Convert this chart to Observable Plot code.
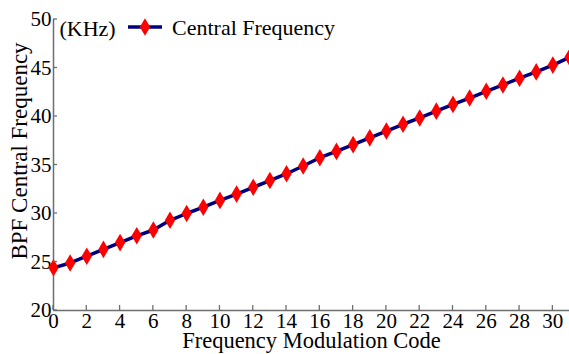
<!DOCTYPE html>
<html>
<head>
<meta charset="utf-8">
<script src="https://cdn.jsdelivr.net/npm/d3@7"></script>
<script src="https://cdn.jsdelivr.net/npm/@observablehq/plot@0.6"></script>
<style>
  html, body { margin: 0; padding: 0; background: #fff; }
  #chart svg { display: block; }
</style>
</head>
<body>
<div id="chart"></div>
<script>
const codes = d3.range(0, 32);
const centralFreq = [24.4, 24.9, 25.6, 26.3, 27.0, 27.7, 28.3, 29.3, 30.0, 30.65,
  31.35, 32.0, 32.7, 33.4, 34.1, 34.9, 35.75, 36.4, 37.1, 37.8,
  38.5, 39.2, 39.85, 40.55, 41.25, 41.9, 42.6, 43.25, 43.95, 44.6,
  45.3, 46.1];
const xTicks = d3.range(0, 31, 2);
const yTicks = [20, 25, 30, 35, 40, 45, 50];
const seriesName = "Central Frequency";
const unitLabel = "(KHz)";
const xLabel = "Frequency Modulation Code";
const yLabel = "BPF Central Frequency";

const data = codes.map((c, i) => ({code: c, freq: centralFreq[i]}));

const tallDiamond = {
  draw(ctx, size) {
    const w = 5.2, h = 8.8;
    ctx.moveTo(0, -h); ctx.lineTo(w, 0); ctx.lineTo(0, h); ctx.lineTo(-w, 0); ctx.closePath();
  }
};

const font = "Liberation Serif, Times New Roman, serif";
const axisColor = "#6e6e6e";

const plot = Plot.plot({
  width: 569,
  height: 354,
  marginLeft: 53,
  marginRight: 0,
  marginTop: 19,
  marginBottom: 44,
  style: {fontFamily: font, fontSize: "21px", color: "#000", background: "#fff", overflow: "visible"},
  x: {domain: [0, 31]},
  y: {domain: [20, 50]},
  marks: [
    Plot.axisX({ticks: xTicks, tickSize: 0, tickPadding: 3, label: null, fontSize: 21, fill: "#000"}),
    Plot.axisY({ticks: yTicks, tickSize: 0, tickPadding: 2, label: null, fontSize: 21, fill: "#000"}),
    Plot.ruleX([0], {stroke: axisColor, strokeWidth: 1.5}),
    Plot.ruleY([20], {stroke: axisColor, strokeWidth: 1.5}),
    Plot.line(data, {x: "code", y: "freq", stroke: "#00007f", strokeWidth: 3.5}),
    Plot.dot(data, {x: "code", y: "freq", symbol: tallDiamond, fill: "#ff0000", stroke: "none"}),
    Plot.text([xLabel], {frameAnchor: "bottom", dy: 37, text: d => d, fontSize: 22.5, fill: "#000"}),
    Plot.text([yLabel], {frameAnchor: "left", textAnchor: "middle", rotate: -90, dx: -34, dy: -14, text: d => d, fontSize: 23, fill: "#000"}),
    Plot.text([unitLabel], {frameAnchor: "top-left", lineAnchor: "middle", dx: 6, dy: 9, textAnchor: "start", text: d => d, fontSize: 22, fill: "#000"})
  ]
});

document.getElementById("chart").appendChild(plot);

const svg = d3.select(plot);
const yScale = plot.scale("y");
const xScale = plot.scale("x");
const x0 = xScale.apply(0);
const yBase = yScale.apply(20);
// inward tick marks
svg.append("g").selectAll("line").data(yTicks).join("line")
  .attr("x1", x0).attr("x2", x0 + 4)
  .attr("y1", d => yScale.apply(d)).attr("y2", d => yScale.apply(d))
  .attr("stroke", axisColor).attr("stroke-width", 1.3);
svg.append("g").selectAll("line").data(xTicks).join("line")
  .attr("x1", d => xScale.apply(d)).attr("x2", d => xScale.apply(d))
  .attr("y1", yBase).attr("y2", yBase - 5)
  .attr("stroke", axisColor).attr("stroke-width", 1.3);

// legend
const lg = svg.append("g").attr("transform", "translate(128,27)");
lg.append("line").attr("x1", 0).attr("x2", 34).attr("y1", 0).attr("y2", 0)
  .attr("stroke", "#00007f").attr("stroke-width", 3.5);
lg.append("path").attr("d", "M17,-8.8L22.2,0L17,8.8L11.8,0Z").attr("fill", "#ff0000");
lg.append("text").attr("x", 44).attr("y", 0).attr("dy", "0.35em")
  .attr("text-anchor", "start")
  .attr("font-family", font).attr("font-size", 22).attr("fill", "#000")
  .text(seriesName);
</script>
</body>
</html>
